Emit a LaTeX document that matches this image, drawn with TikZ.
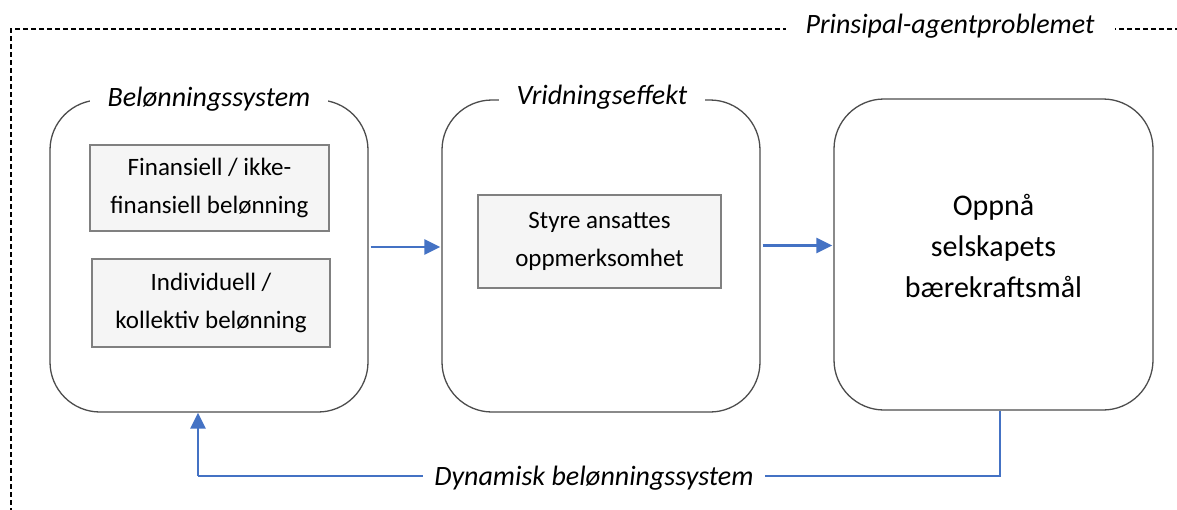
\documentclass[tikz,border=0pt]{standalone}
\usepackage{fontspec}
\setmainfont{Carlito}
\usetikzlibrary{arrows.meta,calc}
\definecolor{arrowblue}{HTML}{4472C4}
\definecolor{innerfill}{HTML}{F5F5F5}
\begin{document}
\begin{tikzpicture}[x=1pt,y=-1pt,
  bigbox/.style={draw=black!70, line width=1.3pt, rounded corners=50pt, minimum width=#1, minimum height=312pt, inner sep=0pt},
  innerbox/.style={draw=black!50, fill=innerfill, line width=1.3pt, inner sep=0pt, align=center, font=\fontsize{25}{38}\selectfont},
  titlelbl/.style={fill=white, inner xsep=18pt, inner ysep=2pt, font=\fontsize{28}{34}\selectfont\itshape},
  arr/.style={draw=arrowblue, line width=2.8pt, -{Triangle[length=16pt,width=15pt]}},
  fb/.style={draw=arrowblue, line width=2.8pt}
]
\useasboundingbox (0,0) rectangle (1177,509);

% dashed frame
\coordinate (fr) at (1180,29);
\coordinate (fl) at (11,29);
\coordinate (fb) at (11,512);
\draw[black, line width=1.3pt, dash pattern=on 5pt off 3pt] (fr) -- (fl) -- (fb);
\node[titlelbl, inner xsep=20pt] (pa) at (950,26) {Prinsipal-agentproblemet};

% big boxes
\node[bigbox=318pt] (b1) at (209,256) {};
\node[bigbox=318pt] (b2) at (601,256) {};
\node[bigbox=319pt, minimum height=311pt] (b3) at (993.5,254.5) {};

\node[titlelbl] (t1) at (209,99) {Belønningssystem};
\node[titlelbl] (t2) at (602,97) {Vridningseffekt};

% inner boxes
\node[innerbox, minimum width=239pt, minimum height=86pt] (ia) at (209.5,188) {Finansiell / ikke-\\finansiell belønning};
\node[innerbox, minimum width=238pt, minimum height=88pt] (ib) at (211,303) {Individuell /\\kollektiv belønning};
\node[innerbox, minimum width=243pt, minimum height=93pt] (ic) at (599.5,241.5) {Styre ansattes\\oppmerksomhet};

\node[align=center, font=\fontsize{30}{41}\selectfont] (t3) at ($(b3.center)+(0,-9)$) {Oppnå\\selskapets\\bærekraftsmål};

% arrows
\draw[arr] ($(b1.east)+(2,-9)$) -- ($(b2.west)+(-1,-9)$);
\draw[arr] ($(b2.east)+(2,-10.5)$) -- ($(b3.west)+(-1,-9)$);

% feedback loop
\coordinate (c1) at ($(b3.south)+(6.5,0)$);
\coordinate (c2) at (1000,476);
\coordinate (c3) at (198,476);
\draw[fb] (c1) -- (c2) -- (c3);
\draw[arr] (c3) -- (b1.south -| c3);
\node[fill=white, inner xsep=11pt, inner ysep=2pt, font=\fontsize{28}{34}\selectfont\itshape] (dyn) at (594,478) {Dynamisk belønningssystem};
\end{tikzpicture}
\end{document}
